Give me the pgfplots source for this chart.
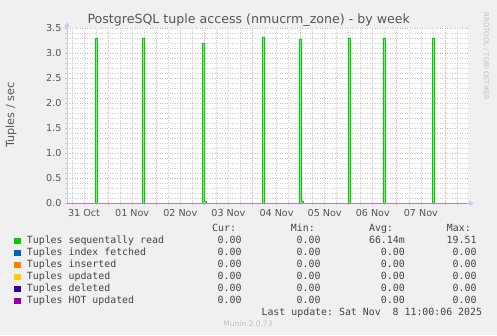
\documentclass[border=0pt]{standalone}
\usepackage{fontspec}
\setmainfont{DejaVu Sans}
\setmonofont{DejaVu Sans Mono}
\usepackage{pgfplots}
\pgfplotsset{compat=1.18}
\usetikzlibrary{arrows.meta}
\definecolor{c1}{HTML}{00CC00}
\definecolor{c2}{HTML}{0066B3}
\definecolor{c3}{HTML}{FF8000}
\definecolor{c4}{HTML}{FFCC00}
\definecolor{c5}{HTML}{330099}
\definecolor{c6}{HTML}{990099}
\definecolor{bg}{HTML}{F0F0F0}
\definecolor{majg}{HTML}{EBAAAA}
\definecolor{ming}{HTML}{CCCCCC}
\definecolor{axisc}{HTML}{C8C8F0}
\definecolor{zeroc}{HTML}{B080CC}
\definecolor{tickc}{HTML}{555555}
\definecolor{legc}{HTML}{444444}
\definecolor{wmc}{HTML}{C0C0C0}
\begin{document}
\begin{tikzpicture}
\fill[bg] (0pt,0pt) rectangle (497pt,-335pt);
\useasboundingbox (0pt,0pt) rectangle (497pt,-335pt);
\begin{axis}[
  scale only axis, width=401pt, height=175pt,
  at={(67pt,-203.3pt)}, anchor=south west,
  xmin=-20.5, xmax=179.5, ymin=0, ymax=3.5,
  axis background/.style={fill=white},
  axis x line=bottom, axis y line=left,
  axis line style={draw=axisc, line width=0.8pt, -{Triangle[width=5pt,length=5pt]}, shorten >=-6pt},
  xtick={0,24,...,168}, xticklabels={{},{},{},{},{},{},{},{}},
  minor xtick={-18,-12,...,174},
  extra x ticks={-12,12,36,60,84,108,132,156},
  extra x tick labels={31 Oct,01 Nov,02 Nov,03 Nov,04 Nov,05 Nov,06 Nov,07 Nov},
  extra x tick style={grid=none, major tick length=0pt},
  ytick={0,0.5,1,1.5,2,2.5,3,3.5},
  minor ytick={0.1,0.2,0.3,0.4,0.6,0.7,0.8,0.9,1.1,1.2,1.3,1.4,1.6,1.7,1.8,1.9,2.1,2.2,2.3,2.4,2.6,2.7,2.8,2.9,3.1,3.2,3.3,3.4},
  grid=both,
  major grid style={majg, line width=0.7pt, dash pattern=on 1pt off 1.5pt},
  minor grid style={ming, line width=0.7pt, dash pattern=on 1pt off 1.5pt},
  tick align=outside, major tick length=2pt, minor tick length=2pt,
  major tick style={majg, line width=0.7pt}, minor tick style={ming, line width=0.7pt},
  /pgf/number format/assume math mode=true,
  yticklabel style={/pgf/number format/.cd, fixed, fixed zerofill, precision=1},
  xticklabel style={yshift=-2.5pt},
  tick label style={font=\fontsize{9.6}{11}\selectfont, text=tickc},
  legend style={at={(axis description cs:-0.1322,-0.1869)}, anchor=north west,
    draw=none, fill=none, inner sep=0pt, outer sep=0pt,
    font=\ttfamily\fontsize{9.9}{11}\selectfont, text=legc,
    row sep=2.5pt, column sep=6.5pt,
    nodes={inner sep=0pt, text height=7pt, text depth=2.5pt}},
  legend cell align=left,
  legend image code/.code={\fill[#1] (0pt,-2.6pt) rectangle (6pt,3pt);},
]
\addlegendimage{color=c1}
\addlegendimage{color=c2}
\addlegendimage{color=c3}
\addlegendimage{color=c4}
\addlegendimage{color=c5}
\addlegendimage{color=c6}
\addplot[forget plot, draw=c1, fill=c1!45!white, line width=0.8pt, line join=miter] coordinates {
(-20.5,0) (-6.3,0) (-6.3,3.30) (-5.3,3.30) (-5.3,0)
(17.2,0) (17.2,3.30) (18.2,3.30) (18.2,0)
(47.2,0) (47.2,3.20) (48.2,3.20) (48.2,0.04) (49.2,0.04) (49.2,0)
(77.2,0) (77.2,3.31) (78.2,3.31) (78.2,0)
(95.2,0) (95.2,3.27) (96.2,3.27) (96.2,0.04) (97.2,0.04) (97.2,0)
(119.7,0) (119.7,3.30) (120.7,3.30) (120.7,0)
(137.5,0) (137.5,3.30) (138.5,3.30) (138.5,0)
(161.7,0) (161.7,3.30) (162.7,3.30) (162.7,0) (179.5,0)
};
\addplot[forget plot, c2, line width=1pt] coordinates {(-20.5,0) (179.5,0)};
\addplot[forget plot, c3, line width=1pt] coordinates {(-20.5,0) (179.5,0)};
\addplot[forget plot, c4, line width=1pt] coordinates {(-20.5,0) (179.5,0)};
\addplot[forget plot, c5, line width=1pt] coordinates {(-20.5,0) (179.5,0)};
\addplot[forget plot, zeroc, line width=1pt] coordinates {(-20.5,0) (179.5,0)};
\legend{Tuples sequentally read,Tuples index fetched,Tuples inserted,Tuples updated,Tuples deleted,Tuples HOT updated}
\end{axis}
\node[anchor=base, font=\fontsize{12.6}{14}\selectfont, text=tickc, inner sep=0pt] at (248.7pt,-23.3pt) {PostgreSQL tuple access (nmucrm\_zone) - by week};
\node[rotate=90, font=\fontsize{11.2}{13}\selectfont, text=tickc, inner sep=0pt] at (11pt,-115pt) {Tuples / sec};
\node[rotate=-90, font=\fontsize{6.8}{8}\selectfont, text=wmc, inner sep=0pt] at (486pt,-56.7pt) {RRDTOOL / TOBI OETIKER};
\begin{scope}[every node/.style={inner sep=0pt, font=\ttfamily\fontsize{9.9}{11}\selectfont, text=legc}]
\node[anchor=base west] at (212pt,-231.7pt) {Cur:};
\node[anchor=base west] at (290.7pt,-231.7pt) {Min:};
\node[anchor=base west] at (369pt,-231.7pt) {Avg:};
\node[anchor=base west] at (446.7pt,-231.7pt) {Max:};
\foreach \y/\a/\b/\c/\d in {243/0.00/0.00/66.14m/19.51, 255/0.00/0.00/0.00~/0.00, 267/0.00/0.00/0.00~/0.00, 279/0.00/0.00/0.00~/0.00, 291/0.00/0.00/0.00~/0.00, 303/0.00/0.00/0.00~/0.00}{
  \node[anchor=base east] at (241.7pt,-\y pt) {\a};
  \node[anchor=base east] at (320.7pt,-\y pt) {\b};
  \node[anchor=base east] at (405pt,-\y pt) {\c};
  \node[anchor=base east] at (476.7pt,-\y pt) {\d};
}
\node[anchor=base east] at (482.3pt,-315.5pt) {Last update: Sat Nov~~8 11:00:06 2025};
\end{scope}
\node[font=\fontsize{7.5}{9}\selectfont, text=wmc, inner sep=0pt] at (248pt,-324pt) {Munin 2.0.73};
\end{tikzpicture}
\end{document}
